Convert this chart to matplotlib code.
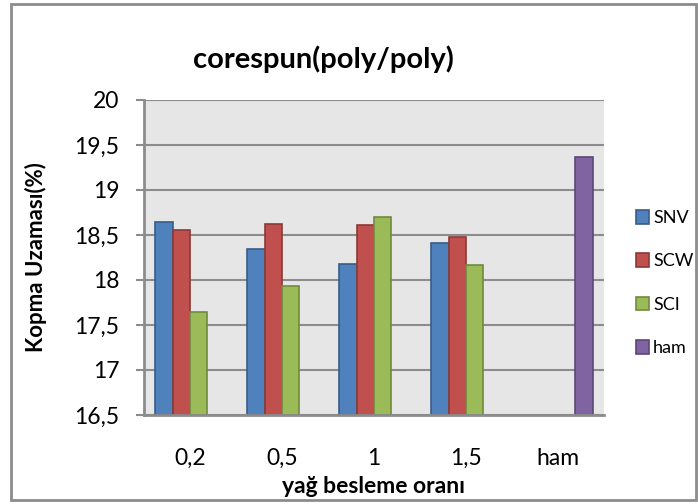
import matplotlib.pyplot as plt
import matplotlib.patches as patches
import numpy as np

plt.rcParams['font.family'] = ['Lato', 'DejaVu Sans']

categories = ['0,2', '0,5', '1', '1,5', 'ham']
series = ['SNV', 'SCW', 'SCI', 'ham']
snv = [18.65, 18.34, 18.18, 18.41, np.nan]
scw = [18.55, 18.62, 18.61, 18.48, np.nan]
sci = [17.64, 17.93, 18.70, 18.17, np.nan]
ham = [np.nan, np.nan, np.nan, np.nan, 19.37]
yticks = [16.5, 17, 17.5, 18, 18.5, 19, 19.5, 20]
ytick_labels = ['16,5', '17', '17,5', '18', '18,5', '19', '19,5', '20']

faces = ['#4F81BD', '#C0504D', '#9BBB59', '#8064A2']
edges = ['#385D8A', '#8C3836', '#71893F', '#5C4776']
grid_col = '#8C8C8C'

fig = plt.figure(figsize=(6.98, 5.04), dpi=100)
fig.patch.set_facecolor('white')
# outer chart border
fig.add_artist(patches.Rectangle((11 / 698, 4 / 504), 685 / 698, 496 / 504,
                                 transform=fig.transFigure, fill=False,
                                 edgecolor='#8C8C8C', linewidth=2))

ax = fig.add_axes([144 / 698, 1 - 415 / 504, 460 / 698, 315 / 504])
ax.set_facecolor('#E6E6E6')

x = np.arange(len(categories))
w = 0.188
for i, vals in enumerate([snv, scw, sci, ham]):
    ax.bar(x + (i - 1.5) * w, np.array(vals) - 16.5, w, bottom=16.5,
           color=faces[i], edgecolor=edges[i], linewidth=1.2,
           label=series[i], zorder=3)

ax.set_xlim(-0.5, 4.5)
ax.set_ylim(16.5, 20)
ax.set_yticks(yticks)
ax.set_yticklabels(ytick_labels, fontsize=16.5)
ax.set_xticks(x)
ax.set_xticklabels(categories, fontsize=16.5)
ax.tick_params(axis='y', length=5.8, width=1.5, color=grid_col, pad=12)
ax.tick_params(axis='x', length=0, pad=24)
ax.yaxis.grid(True, color=grid_col, linewidth=1.5, zorder=1)
ax.set_axisbelow(True)
for s in ['top', 'right']:
    ax.spines[s].set_visible(False)
for s in ['left', 'bottom']:
    ax.spines[s].set_color(grid_col)
    ax.spines[s].set_linewidth(2)
    ax.spines[s].set_zorder(4)

ax.set_xlabel('yağ besleme oranı', fontsize=16.5, fontweight='bold', va='baseline')
ax.xaxis.set_label_coords(0.5, (415 - 493) / 315)
ax.set_ylabel('Kopma Uzaması(%)', fontsize=16, fontweight='bold', va='center')
ax.yaxis.set_label_coords((36 - 144) / 460, 0.5)
fig.text(323 / 698, 1 - 68 / 504, 'corespun(poly/poly)', fontsize=21,
         fontweight='bold', ha='center', va='baseline')

ax.legend(loc='upper left', bbox_to_anchor=(636 / 698, 1 - 210 / 504),
          bbox_transform=fig.transFigure, frameon=False, fontsize=13,
          handlelength=0.7, handleheight=0.8, handletextpad=0.25,
          labelspacing=1.5, borderpad=0, borderaxespad=0)

fig.savefig('out.png', dpi=100)
